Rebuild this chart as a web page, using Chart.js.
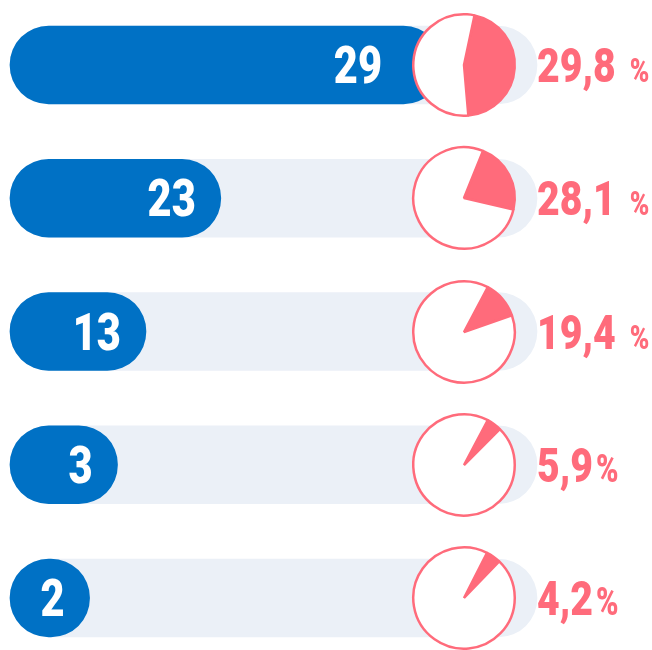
<!DOCTYPE html>
<html>
<head>
<meta charset="utf-8">
<script src="https://cdn.jsdelivr.net/npm/chart.js@4.4.1/dist/chart.umd.min.js"></script>
<style>
html, body { margin: 0; padding: 0; background: #fff; }
#wrap { position: relative; width: 652px; height: 650px; overflow: hidden; }
#wrap canvas { position: absolute; left: 0; top: 0; }
</style>
</head>
<body>
<div id="wrap"><canvas id="bars" width="652" height="650"></canvas></div>
<script>
// data
const categories = ['1', '2', '3', '4', '5'];
const counts = [29, 23, 13, 3, 2];
const barLengths = [82, 40, 25.8, 20.4, 15.1];
const trackLength = 100;
const pctText = ['29,8', '28,1', '19,4', '5,9', '4,2'];
const pctSuffix = [' %', ' %', ' %', '%', '%'];
// pie wedges as drawn (share of the circle, start angle in degrees)
const wedgeShare = [45.3, 22.5, 11.9, 4.7, 4.7];
const wedgeStart = [12, 22, 28, 28, 27];

const BLUE = '#0071C5';
const TRACK = '#EBF0F7';
const RED = '#FF6B7B';
const PIE_CX = 464;
const PIE_R = 52;

// draw text squeezed horizontally (condensed look)
function condensed(ctx, text, x, y) {
  ctx.save();
  ctx.translate(x, y);
  ctx.scale(0.8, 1);
  ctx.fillText(text, 0, 0);
  ctx.restore();
}

//labels plugin
const valueLabels = {
  id: 'valueLabels',
  afterDatasetsDraw(chart) {
    const ctx = chart.ctx;
    const bars = chart.getDatasetMeta(0).data;
    const pctX = chart.scales.x.getPixelForValue(trackLength);
    ctx.save();
    ctx.textBaseline = 'alphabetic';

    ctx.fillStyle = '#fff';
    ctx.textAlign = 'right';
    ctx.font = '900 52px Roboto';
    bars.forEach((bar, i) => {
      const x = Math.min(bar.x - 25, PIE_CX - PIE_R - 30);
      condensed(ctx, String(counts[i]), x, bar.y + 18);
    });

    ctx.fillStyle = RED;
    ctx.textAlign = 'left';
    bars.forEach((bar, i) => {
      ctx.font = '900 49px Roboto';
      condensed(ctx, pctText[i], pctX, bar.y + 17);
      const w = ctx.measureText(pctText[i]).width * 0.8;
      const spaced = pctSuffix[i].startsWith(' ');
      ctx.font = spaced ? '900 33px Roboto' : '900 38px Roboto';
      condensed(ctx, pctSuffix[i].trim(), pctX + w + (spaced ? 14 : 3), bar.y + 17);
    });
    ctx.restore();
  }
};

//bar chart
const barChart = new Chart(document.getElementById('bars'), {
  type: 'bar',
  data: {
    labels: categories,
    datasets: [
      { data: barLengths, backgroundColor: BLUE, borderRadius: 39, borderSkipped: false, order: 0 },
      { data: categories.map(() => trackLength), backgroundColor: TRACK, borderRadius: 39, borderSkipped: false, order: 1 }
    ]
  },
  options: {
    indexAxis: 'y',
    responsive: false,
    animation: false,
    events: [],
    layout: { padding: { left: 10, right: 115, top: 65, bottom: 52 } },
    datasets: { bar: { grouped: false, barThickness: 78, clip: false } },
    scales: {
      x: { display: false, min: 0, max: 100 },
      y: { display: false, offset: false }
    },
    plugins: { legend: { display: false }, tooltip: { enabled: false } }
  },
  plugins: [valueLabels]
});

//pies, one per row, placed on the bar chart's rows
const wrap = document.getElementById('wrap');
const size = PIE_R * 2 + 6;
categories.forEach((c, i) => {
  const cv = document.createElement('canvas');
  cv.width = size;
  cv.height = size;
  cv.style.left = (PIE_CX - size / 2) + 'px';
  cv.style.top = (barChart.scales.y.getPixelForValue(i) - size / 2) + 'px';
  wrap.appendChild(cv);
  new Chart(cv, {
    type: 'pie',
    data: {
      datasets: [{
        data: [wedgeShare[i], 100 - wedgeShare[i]],
        backgroundColor: [RED, '#fff'],
        borderColor: RED,
        borderWidth: 2.5
      }]
    },
    options: {
      responsive: false,
      animation: false,
      events: [],
      rotation: wedgeStart[i],
      layout: { padding: 3 },
      plugins: { legend: { display: false }, tooltip: { enabled: false } }
    }
  });
});
</script>
</body>
</html>
